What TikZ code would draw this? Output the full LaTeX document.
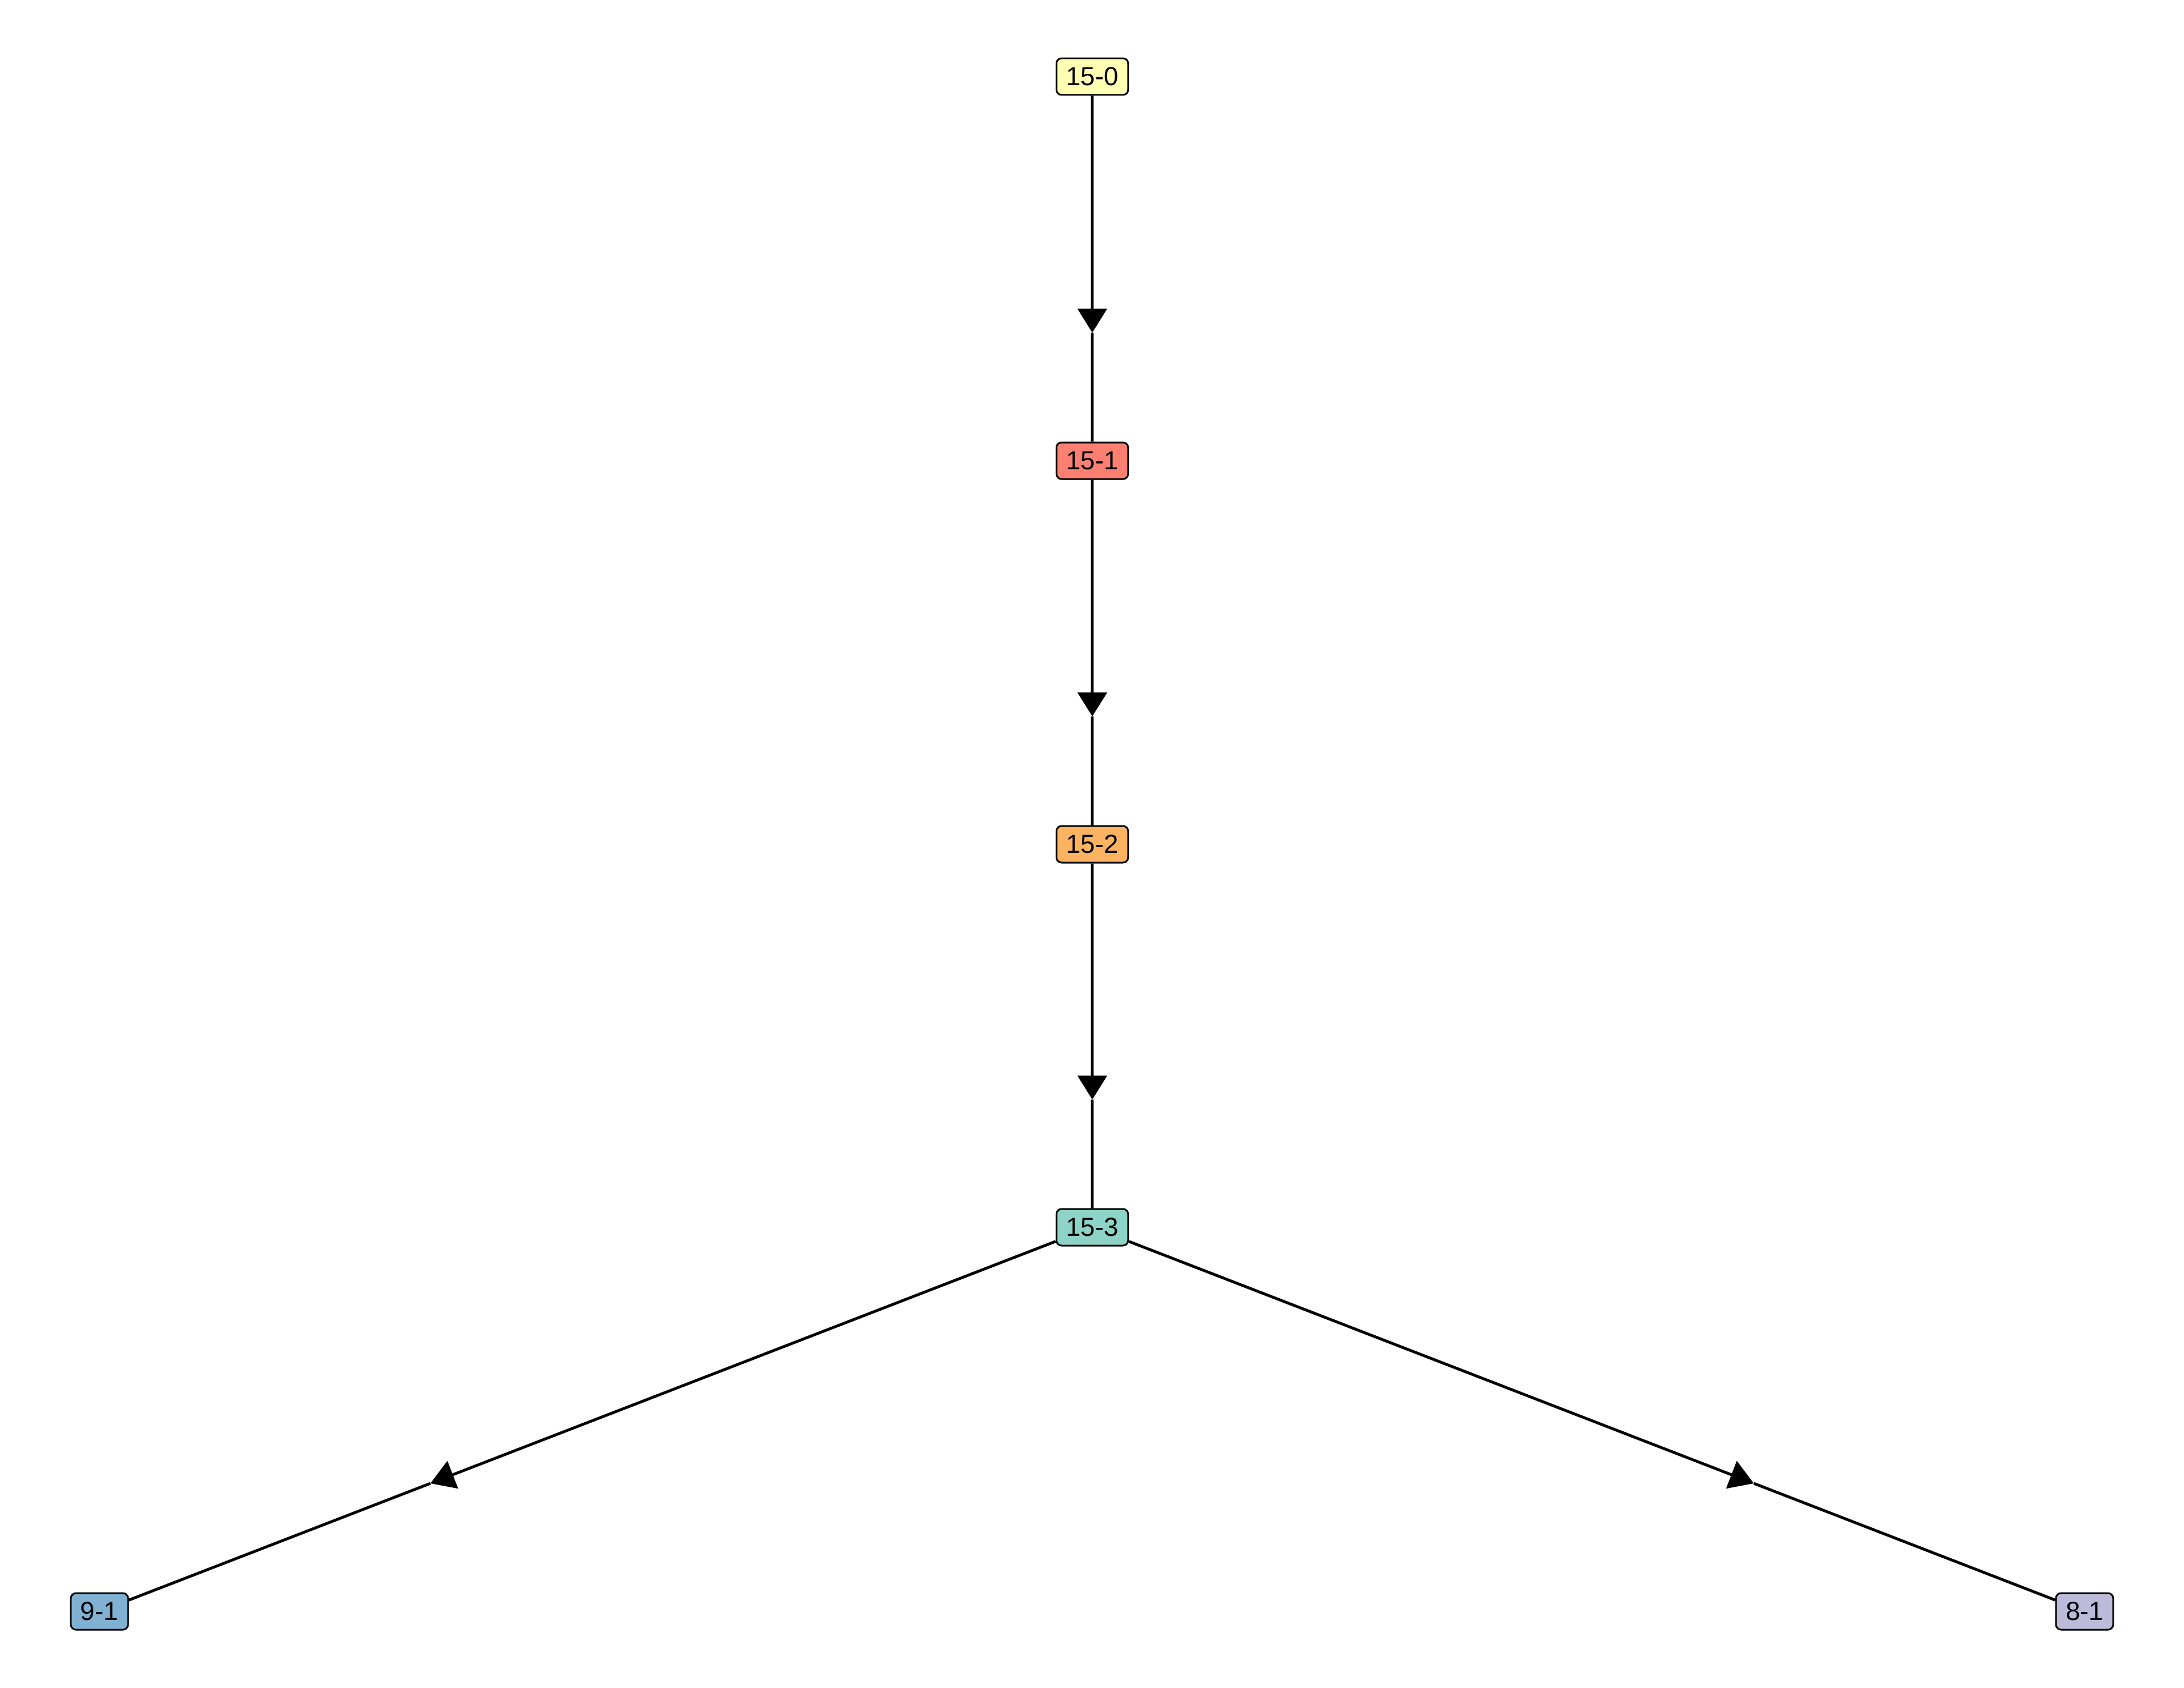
\documentclass[tikz,border=0pt]{standalone}
\usepackage{fontspec}
\setmainfont{Liberation Sans}
\usetikzlibrary{arrows.meta,calc}
\definecolor{cA}{HTML}{FFFFB3}
\definecolor{cB}{HTML}{FB8072}
\definecolor{cC}{HTML}{FDB462}
\definecolor{cD}{HTML}{8DD3C7}
\definecolor{cE}{HTML}{80B1D3}
\definecolor{cF}{HTML}{BEBADA}
\tikzset{
  box/.style={draw=black, line width=0.85pt, rounded corners=0.09cm, minimum height=0.64cm, inner xsep=0.17cm, inner ysep=0pt, font=\fontsize{13pt}{15pt}\selectfont},
  edge/.style={line width=1.4pt},
  tip/.style={edge, -{Triangle[length=0.42cm, width=0.51cm]}}
}
\begin{document}
\begin{tikzpicture}
\useasboundingbox (0,0) rectangle (38.21,-29.53);
\node[box, fill=cA] (n150) at (19.11,-1.34) {15-0};
\node[box, fill=cB] (n151) at (19.11,-8.06) {15-1};
\node[box, fill=cC] (n152) at (19.11,-14.77) {15-2};
\node[box, fill=cD] (n153) at (19.11,-21.47) {15-3};
\node[box, fill=cE] (n91) at (1.74,-28.19) {9-1};
\node[box, fill=cF] (n81) at (36.47,-28.19) {8-1};
\coordinate (m1) at ($(n150)!2/3!(n151)$);
\coordinate (m2) at ($(n151)!2/3!(n152)$);
\coordinate (m3) at ($(n152)!2/3!(n153)$);
\coordinate (m4) at ($(n153)!2/3!(n91)$);
\coordinate (m5) at ($(n153)!2/3!(n81)$);
\draw[tip] (n150) -- (m1); \draw[edge] (m1) -- (n151);
\draw[tip] (n151) -- (m2); \draw[edge] (m2) -- (n152);
\draw[tip] (n152) -- (m3); \draw[edge] (m3) -- (n153);
\draw[tip] (n153) -- (m4); \draw[edge] (m4) -- (n91);
\draw[tip] (n153) -- (m5); \draw[edge] (m5) -- (n81);
\end{tikzpicture}
\end{document}
